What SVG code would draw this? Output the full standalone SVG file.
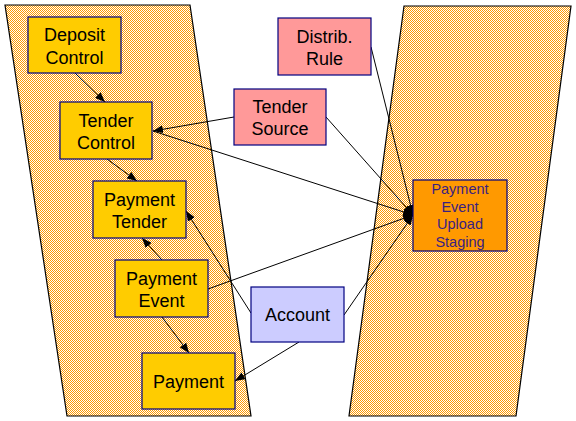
<svg xmlns="http://www.w3.org/2000/svg" width="576" height="421" viewBox="0 0 576 421">
  <defs>
    <pattern id="dither" patternUnits="userSpaceOnUse" width="2" height="2">
      <rect x="0" y="0" width="2" height="2" fill="#ffffff"/>
      <rect x="0" y="0" width="1" height="1" fill="#ff9900"/>
      <rect x="1" y="1" width="1" height="1" fill="#ff9900"/>
    </pattern>
    <marker id="arr" markerUnits="userSpaceOnUse" markerWidth="10" markerHeight="8" refX="10" refY="4" orient="auto">
      <path d="M0,0 L10,4 L0,8 z" fill="#000000"/>
    </marker>
    <style>
      .band { fill: url(#dither); stroke: #000000; stroke-width: 1.2; }
      .node { stroke: #000080; stroke-width: 1.2; }
      .yellow { fill: #ffcc00; }
      .pink { fill: #ff9999; }
      .lav { fill: #ccccff; }
      .orange { fill: #ff9900; }
      .lbl { font-family: "Liberation Sans", Arial, sans-serif; font-size: 18px; fill: #000000; text-anchor: middle; }
      .lbls { font-family: "Liberation Sans", Arial, sans-serif; font-size: 14.5px; fill: #3a1f80; text-anchor: middle; }
      .conn { stroke: #000000; stroke-width: 1; fill: none; marker-end: url(#arr); }
    </style>
  </defs>

  <g id="bands">
    <polygon class="band" points="5,5 190,5 251,416 67,416"/>
    <polygon class="band" points="404,6 571,6 516,416 349,416"/>
  </g>

  <g id="connectors">
    <line class="conn" x1="75" y1="73" x2="105" y2="102"/>
    <line class="conn" x1="107" y1="159" x2="137" y2="181"/>
    <line class="conn" x1="234" y1="117" x2="153" y2="131"/>
    <line class="conn" x1="153" y1="131" x2="413" y2="215"/>
    <line class="conn" x1="326" y1="117" x2="413" y2="215"/>
    <line class="conn" x1="371" y1="47" x2="413" y2="215"/>
    <line class="conn" x1="208" y1="289" x2="413" y2="215"/>
    <line class="conn" x1="344" y1="315" x2="413" y2="215"/>
    <line class="conn" x1="162" y1="260" x2="142" y2="238"/>
    <line class="conn" x1="162" y1="317" x2="189" y2="353"/>
    <line class="conn" x1="251" y1="313" x2="186" y2="211"/>
    <line class="conn" x1="299" y1="342" x2="235" y2="381"/>
  </g>

  <g id="deposit-control">
    <rect class="node yellow" x="28" y="17" width="93" height="56"/>
    <text class="lbl" x="74.5" y="41">Deposit</text>
    <text class="lbl" x="74.5" y="64">Control</text>
  </g>
  <g id="tender-control">
    <rect class="node yellow" x="60" y="102" width="92" height="57"/>
    <text class="lbl" x="106" y="127">Tender</text>
    <text class="lbl" x="106" y="149">Control</text>
  </g>
  <g id="payment-tender">
    <rect class="node yellow" x="93" y="181" width="93" height="57"/>
    <text class="lbl" x="139.5" y="206">Payment</text>
    <text class="lbl" x="139.5" y="228">Tender</text>
  </g>
  <g id="payment-event">
    <rect class="node yellow" x="115" y="260" width="93" height="57"/>
    <text class="lbl" x="161.5" y="285">Payment</text>
    <text class="lbl" x="161.5" y="307">Event</text>
  </g>
  <g id="payment">
    <rect class="node yellow" x="142" y="353" width="93" height="56"/>
    <text class="lbl" x="188.5" y="388">Payment</text>
  </g>
  <g id="distrib-rule">
    <rect class="node pink" x="278" y="18" width="93" height="57"/>
    <text class="lbl" x="324.5" y="42.5">Distrib.</text>
    <text class="lbl" x="324.5" y="65">Rule</text>
  </g>
  <g id="tender-source">
    <rect class="node pink" x="234" y="89" width="92" height="56"/>
    <text class="lbl" x="280" y="113">Tender</text>
    <text class="lbl" x="280" y="135">Source</text>
  </g>
  <g id="account">
    <rect class="node lav" x="251" y="287" width="93" height="55"/>
    <text class="lbl" x="297.5" y="321">Account</text>
  </g>
  <g id="staging">
    <rect class="node orange" x="413" y="180" width="94" height="71"/>
    <text class="lbls" x="460" y="194">Payment</text>
    <text class="lbls" x="460" y="211.5">Event</text>
    <text class="lbls" x="460" y="229">Upload</text>
    <text class="lbls" x="460" y="246.5">Staging</text>
  </g>
</svg>
